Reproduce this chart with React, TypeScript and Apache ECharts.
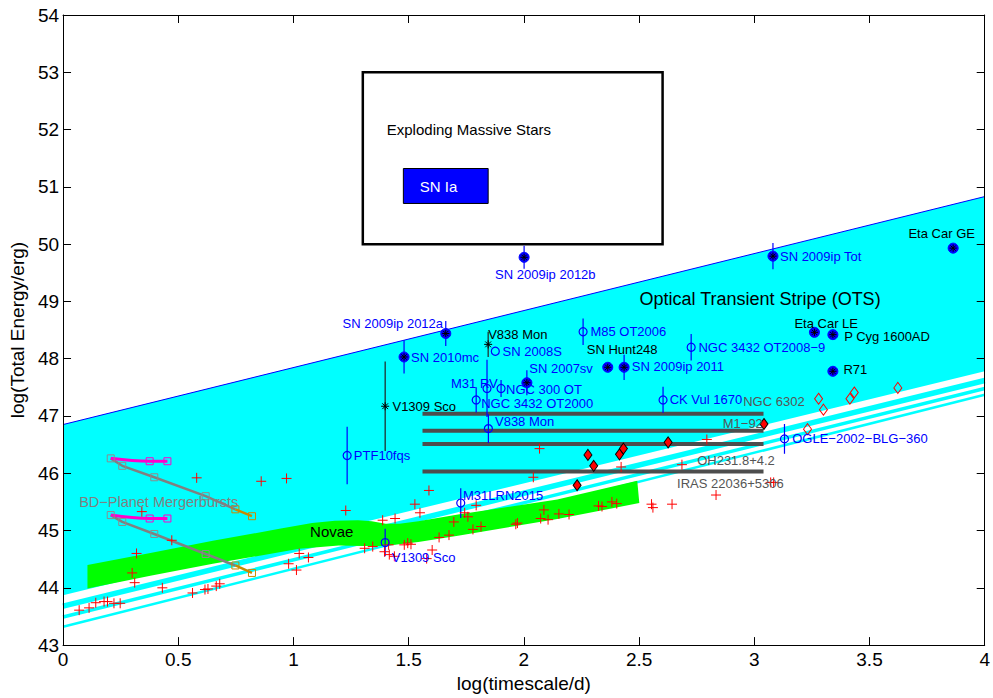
import React, { useEffect, useRef } from "react";
import * as echarts from "echarts";

const FONT = '"Liberation Sans", Arial, Helvetica, sans-serif';

// ---------- Data ----------
const X_RANGE = [0, 4];
const Y_RANGE = [43, 54];

// Optical Transient Stripe band
const OTS_TOP = [[0, 46.85], [4, 50.83]];
const OTS_BOTTOM = [[0, 43.87], [4, 47.78]];
const OTS_STRIPE_1 = [[0, 43.68], [4, 47.62]];
const OTS_STRIPE_2 = [[0, 43.49], [4, 47.48]];
const OTS_STRIPE_3 = [[0, 43.32], [4, 47.37]];

// Novae band
const NOVAE_TOP = [
  [0.106, 44.40], [0.379, 44.61], [0.650, 44.82], [0.939, 45.03], [1.081, 45.13],
  [1.180, 45.17], [1.280, 45.18], [1.340, 45.16], [1.400, 45.12], [1.460, 45.12], [1.542, 45.16], [1.714, 45.28],
  [1.929, 45.41], [2.145, 45.54], [2.492, 45.87],
];
const NOVAE_BOTTOM = [
  [2.501, 45.48], [2.145, 45.20], [1.714, 44.91], [1.542, 44.80], [1.440, 44.75], [1.382, 44.73],
  [1.300, 44.73], [1.197, 44.74], [1.025, 44.68], [0.650, 44.42], [0.379, 44.21], [0.106, 43.99],
];

// Boxes (x0, y0, x1, y1)
const EXPLODING_BOX = [1.301, 50, 2.602, 53];
const SN_IA_BOX = [1.477, 50.71, 1.845, 51.32];

// Novae (red +)
const NOVAE_POINTS = [
  [0.070, 43.61], [0.113, 43.65], [0.142, 43.74], [0.178, 43.76], [0.193, 43.76], [0.221, 43.73], [0.248, 43.73],
  [0.300, 44.26], [0.311, 44.09], [0.319, 44.60], [0.342, 45.33], [0.431, 44.00], [0.472, 44.83], [0.562, 43.91],
  [0.616, 43.97], [0.629, 43.98], [0.665, 44.03], [0.680, 44.07], [0.580, 45.92], [0.860, 45.86], [0.970, 45.91],
  [1.025, 44.60], [1.065, 44.53], [0.979, 44.42], [1.013, 44.31], [1.227, 45.35], [1.309, 44.69], [1.344, 44.72],
  [1.387, 45.18], [1.441, 45.21], [1.395, 44.63], [1.416, 44.58], [1.438, 44.55], [1.413, 44.75], [1.481, 44.75],
  [1.496, 44.78], [1.510, 44.76], [1.527, 45.46], [1.549, 45.31], [1.588, 45.70], [1.578, 44.51], [1.602, 44.66],
  [1.632, 44.88], [1.675, 44.92], [1.696, 45.15], [1.743, 45.31], [1.757, 45.24], [1.779, 45.02], [1.814, 45.07],
  [1.793, 45.44], [1.965, 45.11], [1.972, 45.13], [2.041, 45.93], [2.068, 46.43], [2.087, 45.36], [2.073, 45.21],
  [2.105, 45.19], [2.152, 45.29], [2.196, 45.28], [2.324, 45.43], [2.339, 45.42], [2.382, 45.50], [2.403, 45.47],
  [2.422, 46.11], [2.554, 45.46], [2.560, 45.40], [2.643, 45.46], [2.686, 46.15], [2.794, 46.59], [2.834, 45.62],
  [3.071, 45.84], [3.084, 45.84],
];

const FILLED_DIAMONDS = [
  [2.278, 46.32], [2.303, 46.13], [2.415, 46.33], [2.432, 46.43], [2.626, 46.54], [2.231, 45.79], [3.042, 46.86],
];
const OPEN_DIAMONDS = [
  [3.279, 47.30], [3.300, 47.11], [3.415, 47.30], [3.434, 47.41], [3.623, 47.49], [3.231, 46.77],
];

// Planetary nebulae bars
const PN_NAMES = ["NGC 6302", "M1\u221292", "OH231.8+4.2", "IRAS 22036+5306"];
const PN_LEVELS = [47.04, 46.74, 46.51, 46.03];
const PN_X = [1.56, 3.04];
const PN_LABEL_X = [2.952, 2.863, 2.752, 2.665];
const PN_LABEL_Y = [47.25, 46.87, 46.22, 45.82];

// Blue open circles with error bars
const BLUE_NAMES = ["PTF10fqs", "M31LRN2015", "V1309 Sco", "V838 Mon", "M31 RV", "NGC 3432 OT2000", "NGC 300 OT",
  "SN 2008S", "M85 OT2006", "NGC 3432 OT2008\u22129", "CK Vul 1670", "OGLE\u22122002\u2212BLG\u2212360"];
const BLUE_X = [1.233, 1.726, 1.398, 1.846, 1.840, 1.793, 1.901, 1.876, 2.257, 2.726, 2.604, 3.131];
const BLUE_Y = [46.31, 45.48, 44.79, 46.78, 47.48, 47.28, 47.48, 48.13, 48.47, 48.20, 47.28, 46.60];
const BLUE_ERR = [0.5, 0.26, 0.24, 0.25, 0.5, 0.22, 0.15, 0, 0.23, 0.23, 0.23, 0.26];

// Filled blue circles with asterisk
const SN_NAMES = ["SN 2009ip 2012b", "SN 2009ip 2012a", "SN 2010mc", "SN 2007sv", "SN Hunt248", "SN 2009ip 2011",
  "SN 2009ip Tot", "Eta Car GE", "Eta Car LE", "P Cyg 1600AD", "R71"];
const SN_X = [2.001, 1.661, 1.480, 2.013, 2.364, 2.435, 3.081, 3.863, 3.261, 3.341, 3.341];
const SN_Y = [49.77, 48.44, 48.03, 47.58, 47.85, 47.85, 49.79, 49.93, 48.46, 48.42, 47.78];
const SN_ERR = [0.2, 0.22, 0.29, 0.22, 0, 0.22, 0.23, 0, 0, 0, 0];
const SN_BLUE_LABEL = [true, true, true, true, false, true, true, false, false, false, false];

// Black asterisks
const STAR_NAMES = ["V838 Mon", "V1309 Sco"];
const STAR_X = [1.845, 1.398];
const STAR_Y = [48.25, 47.17];
const STAR_ERR = [0.22, 0.78];

// BD-planet mergerbursts
const BD_X = [0.207, 0.257, 0.396, 0.619, 0.748, 0.820];
const BD_UPPER_Y = [46.26, 46.13, 45.93, 45.60, 45.37, 45.25];
const BD_LOWER_Y = [45.27, 45.15, 44.94, 44.59, 44.39, 44.26];
const BD_SHORT_X = [0.207, 0.376, 0.453];
const BD_SHORT_UPPER_Y = [46.26, 46.21, 46.21];
const BD_SHORT_LOWER_Y = [45.27, 45.21, 45.21];

// Region annotations
const NOTE_TEXT = ["Optical Transient Stripe (OTS)", "Novae", "BD\u2212Planet Mergerbursts", "Exploding Massive Stars", "SN Ia"];
const NOTE_X = [2.502, 1.072, 0.070, 1.405, 1.63];
const NOTE_Y = [49.05, 44.99, 45.50, 52.0, 51.0];

// ---------- Layout of labels (pixel offsets from marker) ----------
const BLUE_LABEL_OFFSET = [[6.7, 0], [2.3, -7.7], [6.6, 15], [6.6, -6.7], [-36, -5], [5, 3.6], [5, 1.4],
  [7.3, 0], [7.3, 0], [7.3, 0], [6.6, 0], [7.7, 0]];
const SN_LABEL_OFFSET = [[-29, 17.5], [-2.7, -10], [7, 0.7], [2.4, -14.3], [-21, -17.7], [7.7, -0.7],
  [7, 0.7], [-44.7, -15], [-20, -9.3], [11.3, 2], [10.6, -1.7]];
const SN_LABEL_ALIGN = ["left", "right", "left", "left", "left", "left", "left", "left", "left", "left", "left"];
const STAR_LABEL_OFFSET = [[0, -10], [7.3, 0.7]];
const NOTE_STYLE = [
  { size: 18, color: "#000", align: "left" },
  { size: 15, color: "#000", align: "left" },
  { size: 14.5, color: "#808080", align: "left" },
  { size: 15, color: "#000", align: "left" },
  { size: 15, color: "#fff", align: "center" },
];

// ---------- Helpers ----------
function textEl(x: number, y: number, text: string, color: string, size: number, align: string) {
  return {
    type: "text",
    x,
    y,
    style: {
      text,
      fill: color,
      font: `${size}px ${FONT}`,
      lineHeight: Math.round(size * 0.95),
      align,
      textAlign: align,
      verticalAlign: "middle",
      textVerticalAlign: "middle",
    },
  };
}

function polygonSeries(points: number[][], fill: string, z: number) {
  return {
    type: "custom",
    silent: true,
    z,
    data: [[points[0][0], points[0][1]]],
    renderItem: (_p: any, api: any) => ({
      type: "polygon",
      shape: { points: points.map((pt) => api.coord(pt)) },
      style: { fill },
    }),
  };
}

function rectSeries(box: number[], fill: string, stroke: string, lw: number, z: number) {
  return {
    type: "custom",
    silent: true,
    z,
    data: [[box[0], box[1]]],
    renderItem: (_p: any, api: any) => {
      const a = api.coord([box[0], box[3]]);
      const b = api.coord([box[2], box[1]]);
      return {
        type: "rect",
        shape: { x: a[0], y: a[1], width: b[0] - a[0], height: b[1] - a[1] },
        style: { fill, stroke, lineWidth: lw },
      };
    },
  };
}

function lineSeries(data: number[][], color: string, width: number, z: number) {
  return {
    type: "line",
    data,
    symbol: "none",
    silent: true,
    z,
    lineStyle: { color, width },
    animation: false,
  };
}

function errorBarSeries(xs: number[], ys: number[], errs: number[], color: string, z: number) {
  return {
    type: "custom",
    silent: true,
    z,
    data: xs.map((x, i) => [x, ys[i], errs[i]]),
    renderItem: (_p: any, api: any) => {
      const x = api.value(0), y = api.value(1), e = api.value(2);
      if (!e) return { type: "group", children: [] };
      const a = api.coord([x, y - e]);
      const b = api.coord([x, y + e]);
      return { type: "line", shape: { x1: a[0], y1: a[1], x2: b[0], y2: b[1] }, style: { stroke: color, lineWidth: 1.2 } };
    },
  };
}

function plusSeries(points: number[][], color: string, z: number) {
  return {
    type: "custom",
    silent: true,
    z,
    data: points,
    renderItem: (_p: any, api: any) => {
      const c = api.coord([api.value(0), api.value(1)]);
      const s = 5;
      return {
        type: "group",
        children: [
          { type: "line", shape: { x1: c[0] - s, y1: c[1], x2: c[0] + s, y2: c[1] }, style: { stroke: color, lineWidth: 1 } },
          { type: "line", shape: { x1: c[0], y1: c[1] - s, x2: c[0], y2: c[1] + s }, style: { stroke: color, lineWidth: 1 } },
        ],
      };
    },
  };
}

function asteriskSeries(xs: number[], ys: number[], color: string, s: number, z: number) {
  return {
    type: "custom",
    silent: true,
    z,
    data: xs.map((x, i) => [x, ys[i]]),
    renderItem: (_p: any, api: any) => {
      const c = api.coord([api.value(0), api.value(1)]);
      const d = s * 0.72;
      const st = { stroke: color, lineWidth: 1 };
      return {
        type: "group",
        children: [
          { type: "line", shape: { x1: c[0] - s, y1: c[1], x2: c[0] + s, y2: c[1] }, style: st },
          { type: "line", shape: { x1: c[0], y1: c[1] - s, x2: c[0], y2: c[1] + s }, style: st },
          { type: "line", shape: { x1: c[0] - d, y1: c[1] - d, x2: c[0] + d, y2: c[1] + d }, style: st },
          { type: "line", shape: { x1: c[0] - d, y1: c[1] + d, x2: c[0] + d, y2: c[1] - d }, style: st },
        ],
      };
    },
  };
}

function labelSeries(
  xs: number[], ys: number[], names: string[], offsets: number[][],
  colorOf: (i: number) => string, alignOf: (i: number) => string, size: number, z: number
) {
  return {
    type: "custom",
    silent: true,
    z,
    data: xs.map((x, i) => [x, ys[i], i]),
    renderItem: (_p: any, api: any) => {
      const i = api.value(2);
      const c = api.coord([api.value(0), api.value(1)]);
      return textEl(c[0] + offsets[i][0], c[1] + offsets[i][1], names[i], colorOf(i), size, alignOf(i));
    },
  };
}

function scatterSeries(data: number[][], symbol: string, size: any, fill: string, border: string, bw: number, z: number) {
  return {
    type: "scatter",
    data,
    symbol,
    symbolSize: size,
    silent: true,
    z,
    itemStyle: { color: fill, borderColor: border, borderWidth: bw, opacity: 1 },
  };
}

function zip(xs: number[], ys: number[]) {
  return xs.map((x, i) => [x, ys[i]]);
}

function buildOption() {
  const axisCommon = {
    type: "value",
    axisLine: { show: true, onZero: false, lineStyle: { color: "#000", width: 1 } },
    axisTick: { show: true, inside: true, length: 8, lineStyle: { color: "#000" } },
    splitLine: { show: false },
    z: 10,
  };
  const TRANSPARENT = "rgba(0,0,0,0)";
  const series: any[] = [];

  // OTS band
  series.push(polygonSeries([OTS_TOP[0], OTS_TOP[1], OTS_BOTTOM[1], OTS_BOTTOM[0]], "#00ffff", 1));
  series.push(lineSeries(OTS_STRIPE_1, "#00ffff", 5.5, 1));
  series.push(lineSeries(OTS_STRIPE_2, "#00ffff", 3.5, 1));
  series.push(lineSeries(OTS_STRIPE_3, "#00ffff", 2.5, 1));
  series.push(lineSeries(OTS_TOP, "#0000ff", 1, 2));

  // Novae band
  series.push(polygonSeries([...NOVAE_TOP, ...NOVAE_BOTTOM], "#00ff00", 2));

  // Exploding massive stars box
  series.push(rectSeries(EXPLODING_BOX, "#ffffff", "#000000", 2.5, 3));
  series.push(rectSeries(SN_IA_BOX, "#0000ff", "#000000", 1, 3));

  // PN bars
  PN_LEVELS.forEach((lv) => series.push(lineSeries([[PN_X[0], lv], [PN_X[1], lv]], "#4d4d4d", 4, 3)));

  // BD planet mergerbursts
  series.push(lineSeries(zip(BD_X.slice(0, 5), BD_UPPER_Y.slice(0, 5)), "#808080", 2.5, 4));
  series.push(lineSeries(zip(BD_X.slice(4), BD_UPPER_Y.slice(4)), "#c88a00", 2.5, 4));
  series.push(lineSeries(zip(BD_X.slice(0, 5), BD_LOWER_Y.slice(0, 5)), "#808080", 2.5, 4));
  series.push(lineSeries(zip(BD_X.slice(4), BD_LOWER_Y.slice(4)), "#c88a00", 2.5, 4));
  series.push({ ...lineSeries(zip(BD_SHORT_X, BD_SHORT_UPPER_Y), "#ff00cc", 3, 4), smooth: 0.4 });
  series.push({ ...lineSeries(zip(BD_SHORT_X, BD_SHORT_LOWER_Y), "#ff00cc", 3, 4), smooth: 0.4 });
  series.push(scatterSeries(
    [...zip(BD_X.slice(0, 4), BD_UPPER_Y.slice(0, 4)), ...zip(BD_X.slice(0, 4), BD_LOWER_Y.slice(0, 4))],
    "rect", 7, TRANSPARENT, "#8c8c8c", 1, 5));
  series.push(scatterSeries(
    [...zip(BD_X.slice(4), BD_UPPER_Y.slice(4)), ...zip(BD_X.slice(4), BD_LOWER_Y.slice(4))],
    "rect", 7, TRANSPARENT, "#c88a00", 1, 5));
  series.push(scatterSeries(
    [...zip(BD_SHORT_X.slice(1), BD_SHORT_UPPER_Y.slice(1)), ...zip(BD_SHORT_X.slice(1), BD_SHORT_LOWER_Y.slice(1))],
    "rect", 7, TRANSPARENT, "#ff00cc", 1, 5));

  // Error bars
  series.push(errorBarSeries(BLUE_X, BLUE_Y, BLUE_ERR, "#0000ff", 5));
  series.push(errorBarSeries(SN_X, SN_Y, SN_ERR, "#0000ff", 5));
  series.push(errorBarSeries(STAR_X, STAR_Y, STAR_ERR, "#222222", 5));

  // Novae crosses and diamonds
  series.push(plusSeries(NOVAE_POINTS, "#ff0000", 6));
  series.push(scatterSeries(FILLED_DIAMONDS, "diamond", [8, 11], "#ff0000", "#000000", 1, 6));
  series.push(scatterSeries(OPEN_DIAMONDS, "diamond", [8, 11], TRANSPARENT, "#ff0000", 1, 6));

  // Circles and asterisks
  series.push(scatterSeries(zip(BLUE_X, BLUE_Y), "circle", 8, TRANSPARENT, "#0000ff", 1.2, 7));
  series.push(scatterSeries(zip(SN_X, SN_Y), "circle", 10, "#0000ff", "#0000ff", 1, 7));
  series.push(asteriskSeries(SN_X, SN_Y, "#000000", 3.6, 8));
  series.push(asteriskSeries(STAR_X, STAR_Y, "#000000", 4, 8));

  // Labels
  series.push(labelSeries(BLUE_X, BLUE_Y, BLUE_NAMES, BLUE_LABEL_OFFSET, () => "#0000ff", () => "left", 13, 9));
  series.push(labelSeries(SN_X, SN_Y, SN_NAMES, SN_LABEL_OFFSET,
    (i) => (SN_BLUE_LABEL[i] ? "#0000ff" : "#000000"), (i) => SN_LABEL_ALIGN[i], 13, 9));
  series.push(labelSeries(STAR_X, STAR_Y, STAR_NAMES, STAR_LABEL_OFFSET, () => "#000000", () => "left", 13, 9));
  series.push(labelSeries(PN_LABEL_X, PN_LABEL_Y, PN_NAMES, PN_NAMES.map(() => [0, 0]),
    () => "#555555", () => "left", 13, 9));
  series.push({
    type: "custom",
    silent: true,
    z: 9,
    data: NOTE_X.map((x, i) => [x, NOTE_Y[i], i]),
    renderItem: (_p: any, api: any) => {
      const i = api.value(2);
      const c = api.coord([api.value(0), api.value(1)]);
      const st = NOTE_STYLE[i];
      return textEl(c[0], c[1], NOTE_TEXT[i], st.color, st.size, st.align);
    },
  });

  return {
    animation: false,
    backgroundColor: "#ffffff",
    textStyle: { fontFamily: FONT },
    grid: { left: 62, right: 2, top: 15, bottom: 48, containLabel: false },
    xAxis: [
      {
        ...axisCommon,
        position: "bottom",
        min: X_RANGE[0],
        max: X_RANGE[1],
        interval: 0.5,
        axisLabel: { color: "#000", fontSize: 19, fontFamily: FONT, margin: 5 },
        name: "log(timescale/d)",
        nameLocation: "middle",
        nameGap: 27,
        nameTextStyle: { color: "#000", fontSize: 19, fontFamily: FONT },
      },
      {
        ...axisCommon,
        position: "top",
        min: X_RANGE[0],
        max: X_RANGE[1],
        interval: 0.5,
        axisLabel: { show: false },
      },
    ],
    yAxis: [
      {
        ...axisCommon,
        position: "left",
        min: Y_RANGE[0],
        max: Y_RANGE[1],
        interval: 1,
        axisLabel: { color: "#000", fontSize: 19, fontFamily: FONT, margin: 4 },
        name: "log(Total Energy/erg)",
        nameLocation: "middle",
        nameGap: 27,
        nameTextStyle: { color: "#000", fontSize: 19, fontFamily: FONT },
      },
      {
        ...axisCommon,
        position: "right",
        min: Y_RANGE[0],
        max: Y_RANGE[1],
        interval: 1,
        axisLabel: { show: false },
      },
    ],
    series,
  };
}

export default function App() {
  const ref = useRef<HTMLDivElement>(null);
  useEffect(() => {
    if (!ref.current) return;
    const chart = echarts.init(ref.current, null, { renderer: "svg" });
    chart.setOption(buildOption() as any);
    return () => chart.dispose();
  }, []);
  return (
    <div
      ref={ref}
      style={{ position: "absolute", left: 0, top: 0, width: 993, height: 698, background: "#fff" }}
    />
  );
}
